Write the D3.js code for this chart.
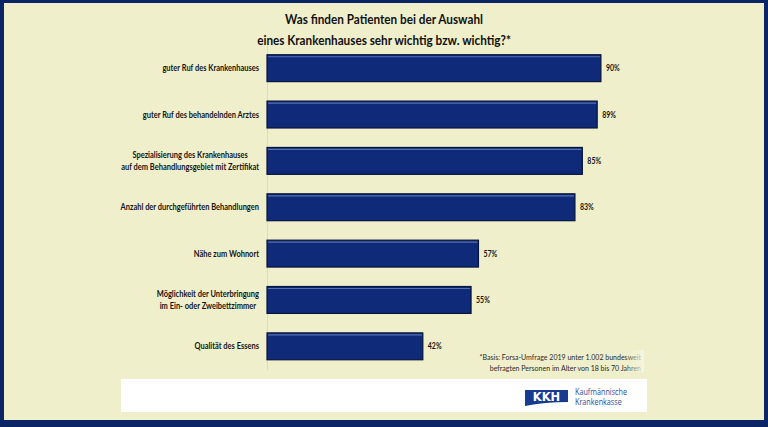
<!DOCTYPE html>
<html>
<head>
<meta charset="utf-8">
<script src="https://cdn.jsdelivr.net/npm/d3@7"></script>
<style>
  html, body { margin: 0; padding: 0; background: #0b2466; }
  svg { display: block; }
  .ttl { font-family: Lato, "Open Sans", sans-serif; font-weight: bold; fill: #111; }
  .lbl { font-family: Lato, "Open Sans", sans-serif; font-weight: bold; fill: #151515; }
  .note { font-family: Lato, "Open Sans", sans-serif; fill: #2a2a2a; }
</style>
</head>
<body>
<script>
// chart values
const categories = [
    ["guter Ruf des Krankenhauses"],
    ["guter Ruf des behandelnden Arztes"],
    ["Spezialisierung des Krankenhauses", "auf dem Behandlungsgebiet mit Zertifikat"],
    ["Anzahl der durchgeführten Behandlungen"],
    ["Nähe zum Wohnort"],
    ["Möglichkeit der Unterbringung", "im Ein- oder Zweibettzimmer"],
    ["Qualität des Essens"]
];
const values = [90, 89, 85, 83, 57, 55, 42];
const title_lines = ["Was finden Patienten bei der Auswahl", "eines Krankenhauses sehr wichtig bzw. wichtig?*"];
const note_lines = ["*Basis: Forsa-Umfrage 2019 unter 1.002 bundesweit", "befragten Personen im Alter von 18 bis 70 Jahren"];
const logo_lines = ["Kaufmännische", "Krankenkasse"];

const dims = { width: 768, height: 427 };

// no narrow font installed, so squeeze horizontally to get a Calibri-like width
const sq = (px, py, k) => 'translate(' + px + ',' + py + ') scale(' + k + ',1)';

const svg = d3.select("body").append("svg")
    .attr("width", dims.width)
    .attr("height", dims.height);

// frame
svg.append("rect").attr("width", dims.width).attr("height", dims.height).attr("fill", "#0b2466");
svg.append("rect")
    .attr("x", 4).attr("y", 3)
    .attr("width", dims.width - 8).attr("height", dims.height - 10)
    .attr("fill", "#f0efcb");

// title
svg.append("g").selectAll("text")
    .data(title_lines).enter().append("text")
        .attr("class", "ttl")
        .attr("transform", (d, i) => sq(384, 24 + i * 21, 0.87))
        .attr("text-anchor", "middle")
        .attr("font-size", 13.5)
        .text(d => d);

// scales
const x = d3.scaleLinear().domain([0, 100]).range([267, 638]);
const y = d3.scaleBand()
    .domain(d3.range(values.length))
    .range([45, 369.5])
    .paddingInner(0.42)
    .paddingOuter(0.21);

// axis line
svg.append("g")
    .attr("transform", "translate(" + x(0) + ",0)")
    .call(d3.axisLeft(y).tickSize(0).tickFormat(""))
    .call(g => g.select(".domain").attr("stroke", "#dedcb6").attr("stroke-width", 1));

// bars
const bars = svg.append("g").selectAll("g")
    .data(values).enter().append("g");

bars.append("rect")
    .attr("x", x(0))
    .attr("y", (d, i) => y(i))
    .attr("width", d => x(d) - x(0))
    .attr("height", y.bandwidth())
    .attr("fill", "#0e2a79")
    .attr("stroke", "#07153d")
    .attr("stroke-width", 1.2);

bars.append("line")
    .attr("x1", x(0) + 1)
    .attr("x2", d => x(d) - 1)
    .attr("y1", (d, i) => y(i) + 2)
    .attr("y2", (d, i) => y(i) + 2)
    .attr("stroke", "#5670b0")
    .attr("stroke-width", 1.2);

bars.append("text")
    .attr("class", "lbl")
    .attr("transform", (d, i) => sq(x(d) + 5, y(i) + y.bandwidth() / 2 + 3, 0.82))
    .attr("font-size", 8.5)
    .text(d => d + "%");

// category labels, block right-aligned, lines centred in the block
const label_right = 259;
const label_k = 0.88;
const labels = svg.append("g").selectAll("text")
    .data(categories).enter().append("text")
        .attr("class", "lbl")
        .attr("font-size", 8.5);

labels.each(function(lines, i) {
    const t = d3.select(this);
    const mid = y(i) + y.bandwidth() / 2;
    const tsp = t.selectAll("tspan").data(lines).enter().append("tspan")
        .attr("x", 0)
        .attr("y", (d, j) => 3 + (j - (lines.length - 1) / 2) * 11.5)
        .attr("text-anchor", "middle")
        .text(d => d);
    let maxW = 0;
    tsp.each(function() { maxW = Math.max(maxW, this.getComputedTextLength()); });
    t.attr("transform", sq(label_right - maxW * label_k / 2, mid, label_k));
});

// footnote
svg.append("g").selectAll("text")
    .data(note_lines).enter().append("text")
        .attr("class", "note")
        .attr("transform", (d, i) => sq(641, 360 + i * 11, 0.9))
        .attr("text-anchor", "end")
        .attr("font-size", 7.8)
        .text(d => d);

const defs = svg.append("defs");
const fade = defs.append("linearGradient").attr("id", "fade");
fade.append("stop").attr("offset", "0%").attr("stop-color", "#f0efcb").attr("stop-opacity", 0);
fade.append("stop").attr("offset", "100%").attr("stop-color", "#f7f6e4").attr("stop-opacity", 0.9);
svg.append("rect").attr("x", 624).attr("y", 350).attr("width", 20).attr("height", 22).attr("fill", "url(#fade)");

// logo strip
svg.append("rect")
    .attr("x", 121).attr("y", 379)
    .attr("width", 526).attr("height", 33)
    .attr("fill", "#ffffff");

const logo = svg.append("g");
logo.append("path")
    .attr("d", "M525,390 L568,390 L568,402 Q545,402 525,406 Z")
    .attr("fill", "#163b91");
logo.append("text")
    .attr("x", 546.5).attr("y", 400.5)
    .attr("text-anchor", "middle")
    .attr("font-family", "'DejaVu Sans', sans-serif")
    .attr("font-weight", "bold")
    .attr("font-size", 11.5)
    .attr("fill", "#ffffff")
    .text("KKH");
logo.selectAll("text.lg")
    .data(logo_lines).enter().append("text")
        .attr("class", "lg")
        .attr("transform", (d, i) => sq(575, 395 + i * 10, 0.85))
        .attr("font-family", "'Open Sans', sans-serif")
        .attr("font-size", 8.5)
        .attr("fill", "#2b4c9b")
        .text(d => d);
</script>
</body>
</html>
